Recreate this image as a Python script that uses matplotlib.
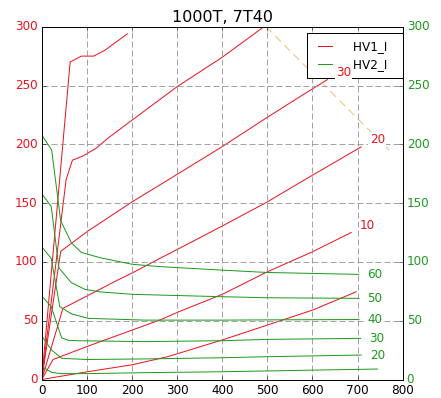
import numpy as np
import matplotlib
matplotlib.use('Agg')
import matplotlib.pyplot as plt

plt.style.use('classic')

# HV1_I curves (left axis, red)
r0_x = [0, 100, 200, 279, 400, 500, 600, 697]
r0_y = [0, 6.5, 12.5, 19.4, 33.6, 46.3, 59, 74.6]
r10_x = [0, 25, 100, 200, 262, 300, 400, 500, 600, 686]
r10_y = [0, 17, 28, 42, 50.6, 57, 72.4, 91.6, 108.6, 125]
r20_x = [0, 47, 100, 168, 200, 262, 300, 400, 500, 541, 600, 708]
r20_y = [0, 60.5, 71, 84.5, 90.5, 103, 110.5, 130.5, 151, 160.4, 173.7, 197.8]
r30_x = [0, 42, 100, 200, 279, 400, 490, 566, 633]
r30_y = [0, 109, 125.6, 151, 169.5, 198, 220.5, 239, 255]
r40_x = [0, 54, 68, 91, 120, 146, 200, 300, 400, 489, 497]
r40_y = [0, 170, 186.5, 190, 196.5, 205, 220.5, 249, 274, 299, 301]
r50_x = [0, 63, 88, 115, 140, 165, 190]
r50_y = [0, 270, 275, 275, 280, 287, 294]

# HV2_I curves (right axis, green)
g60_x = [0, 22, 42, 66, 88, 130, 200, 262, 400, 500, 600, 702]
g60_y = [208, 195, 135, 116, 108, 103.5, 98, 96, 93, 91, 90.2, 89.4]
g50_x = [0, 21, 38, 65, 96, 130, 202, 262, 400, 500, 703]
g50_y = [158, 147, 95, 82.5, 76.6, 74.5, 72.4, 71.8, 70.4, 69.5, 69]
g40_x = [0, 21, 40, 66, 103, 228, 400, 500, 703]
g40_y = [112.8, 103, 62, 55.8, 52, 50.5, 50.5, 50.7, 51]
g30_x = [0, 21, 44, 59, 77, 228, 400, 500, 707]
g30_y = [71, 62, 35.5, 33.3, 33, 32.2, 33, 34.1, 35]
g20_x = [0, 22, 44, 100, 228, 400, 500, 708]
g20_y = [37, 25, 18, 17, 17.5, 18.5, 19.4, 20.8]
g10_x = [0, 22, 44, 100, 228, 400, 744]
g10_y = [11, 6, 5, 5, 5.8, 6.6, 8.9]

limit_x = [497, 770]
limit_y = [300, 195]

red_labels = {'10': (r10_x, r10_y), '20': (r20_x, r20_y), '30': (r30_x, r30_y)}
green_labels = {'60': (g60_x, g60_y), '50': (g50_x, g50_y), '40': (g40_x, g40_y),
                '30': (g30_x, g30_y), '20': (g20_x, g20_y)}

RED = '#e8141e'
GREEN = '#1f9a1f'

fig = plt.figure(figsize=(441/72, 398/72), dpi=72, facecolor='w')
ax1 = fig.add_axes([41.75/441, 1-379.5/398, (402.7-41.75)/441, (379.5-26.7)/398])
ax2 = ax1.twinx()

reds = [(r0_x, r0_y), (r10_x, r10_y), (r20_x, r20_y), (r30_x, r30_y), (r40_x, r40_y), (r50_x, r50_y)]
for x, y in reds:
    l1, = ax1.plot(x, y, color=RED, lw=1)
greens = [(g60_x, g60_y), (g50_x, g50_y), (g40_x, g40_y), (g30_x, g30_y), (g20_x, g20_y), (g10_x, g10_y)]
for x, y in greens:
    l2, = ax2.plot(x, y, color=GREEN, lw=1)
ax1.plot(limit_x, limit_y, color='#f2bf72', lw=1, linestyle=(0, (8, 5)))

ax1.set_xlim(0, 800)
ax1.set_ylim(0, 300)
ax2.set_ylim(0, 300)
ax1.set_xticks(np.arange(0, 801, 100))
ax1.set_yticks(np.arange(0, 301, 50))
ax2.set_yticks(np.arange(0, 301, 50))
ax1.tick_params(axis='y', colors='k', labelcolor=RED, labelsize=12)
ax2.tick_params(axis='y', colors='k', labelcolor=GREEN, labelsize=12)
ax1.tick_params(axis='x', labelsize=12)
ax1.grid(True, linestyle=(0, (6, 3)), color='0.55', lw=0.8)
ax1.set_title('1000T, 7T40', fontsize=16)

leg = ax2.legend([l1, l2], ['HV1_I  ', 'HV2_I  '], loc='upper right',
                 bbox_to_anchor=(1.0, 1 - 6.3/352.8), borderaxespad=0,
                 fontsize=12, handlelength=1.75, handletextpad=1.5,
                 borderpad=0.6, labelspacing=0.4,
                 fancybox=False, numpoints=2)
leg.get_frame().set_edgecolor('k')

for name, (x, y) in red_labels.items():
    ax2.annotate(name, (x[-1], y[-1]), xytext=(16, 7), textcoords='offset points',
                 ha='center', va='center', color=RED, fontsize=12, zorder=10,
                 bbox=dict(boxstyle='square,pad=0.1', fc='w', ec='none'))
for name, (x, y) in green_labels.items():
    ax2.annotate(name, (x[-1], y[-1]), xytext=(16, 0), textcoords='offset points',
                 ha='center', va='center', color=GREEN, fontsize=12, zorder=10,
                 bbox=dict(boxstyle='square,pad=0.1', fc='w', ec='none'))

fig.savefig('out.png', dpi=72, facecolor='w')
